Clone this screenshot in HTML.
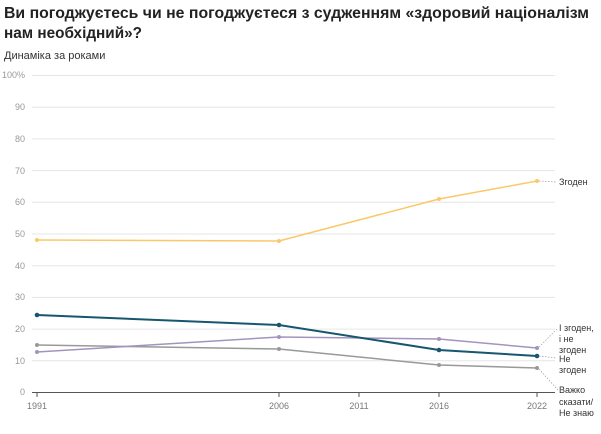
<!DOCTYPE html>
<html><head><meta charset="utf-8"><style>
body{margin:0;background:#fff;width:601px;height:429px;overflow:hidden;font-family:"Liberation Sans",sans-serif}
</style></head><body>
<svg width="601" height="429" xmlns="http://www.w3.org/2000/svg" font-family="Liberation Sans, sans-serif">
<text x="4" y="18" font-size="16" font-weight="bold" fill="#222" textLength="585" lengthAdjust="spacingAndGlyphs">Ви погоджуєтесь чи не погоджуєтеся з судженням «здоровий націоналізм</text>
<text x="4" y="38" font-size="16" font-weight="bold" fill="#222" textLength="138" lengthAdjust="spacingAndGlyphs">нам необхідний»?</text>
<text x="4" y="59" font-size="11" fill="#333">Динаміка за роками</text>
<g stroke="#e6e6e6" stroke-width="1">
<line x1="32" x2="555" y1="75.5" y2="75.5"/><line x1="32" x2="555" y1="107.2" y2="107.2"/>
<line x1="32" x2="555" y1="138.9" y2="138.9"/><line x1="32" x2="555" y1="170.6" y2="170.6"/>
<line x1="32" x2="555" y1="202.3" y2="202.3"/><line x1="32" x2="555" y1="234" y2="234"/>
<line x1="32" x2="555" y1="265.7" y2="265.7"/><line x1="32" x2="555" y1="297.4" y2="297.4"/>
<line x1="32" x2="555" y1="329.1" y2="329.1"/><line x1="32" x2="555" y1="360.8" y2="360.8"/>
</g>
<line x1="32" x2="555" y1="392.5" y2="392.5" stroke="#555" stroke-width="1"/>
<g font-size="9" fill="#999" text-anchor="end">
<text x="25" y="78">100%</text><text x="25" y="110">90</text><text x="25" y="142">80</text>
<text x="25" y="174">70</text><text x="25" y="205">60</text><text x="25" y="237">50</text>
<text x="25" y="269">40</text><text x="25" y="300">30</text><text x="25" y="332">20</text>
<text x="25" y="364">10</text><text x="25" y="395">0</text>
</g>
<g stroke="#555"><line x1="37" x2="37" y1="392" y2="397"/><line x1="279" x2="279" y1="392" y2="397"/><line x1="359" x2="359" y1="392" y2="397"/><line x1="439" x2="439" y1="392" y2="397"/><line x1="537" x2="537" y1="392" y2="397"/></g>
<g font-size="9" fill="#777" text-anchor="middle">
<text x="37" y="409">1991</text><text x="279" y="409">2006</text><text x="359" y="409">2011</text><text x="439" y="409">2016</text><text x="537" y="409">2022</text>
</g>
<g fill="none" stroke-width="1.5">
<polyline stroke="#fbc869" points="37,240 279,241 439,199 537,181"/>
<polyline stroke="#999" points="37,345 279,349 439,365 537,368"/>
<polyline stroke="#a294be" points="37,352 279,337 439,339 537,348"/>
<polyline stroke="#17566f" stroke-width="2" points="37,315 279,325 439,350 537,356"/>
</g>
<g fill="#fbc869"><circle cx="37" cy="240" r="2"/><circle cx="279" cy="241" r="2"/><circle cx="439" cy="199" r="2"/><circle cx="537" cy="181" r="2"/></g>
<g fill="#999"><circle cx="37" cy="345" r="2"/><circle cx="279" cy="349" r="2"/><circle cx="439" cy="365" r="2"/><circle cx="537" cy="368" r="2"/></g>
<g fill="#a294be"><circle cx="37" cy="352" r="2"/><circle cx="279" cy="337" r="2"/><circle cx="439" cy="339" r="2"/><circle cx="537" cy="348" r="2"/></g>
<g fill="#17566f"><circle cx="37" cy="315" r="2.3"/><circle cx="279" cy="325" r="2.3"/><circle cx="439" cy="350" r="2.3"/><circle cx="537" cy="356" r="2.3"/></g>
<g stroke="#999" stroke-width="0.7" stroke-dasharray="1.5,1.5" fill="none">
<line x1="539" y1="181" x2="556" y2="182"/>
<line x1="539" y1="347" x2="558" y2="328"/>
<line x1="539" y1="356" x2="556" y2="358"/>
<line x1="539" y1="369" x2="558" y2="390"/>
</g>
<g font-size="9" fill="#333">
<text x="559" y="185">Згоден</text>
<text x="559" y="331">І згоден,</text><text x="559" y="342">і не</text><text x="559" y="353">згоден</text>
<text x="559" y="362">Не</text><text x="559" y="373">згоден</text>
<text x="559" y="393">Важко</text><text x="559" y="405">сказати/</text><text x="559" y="416">Не знаю</text>
</g>
</svg>
</body></html>
